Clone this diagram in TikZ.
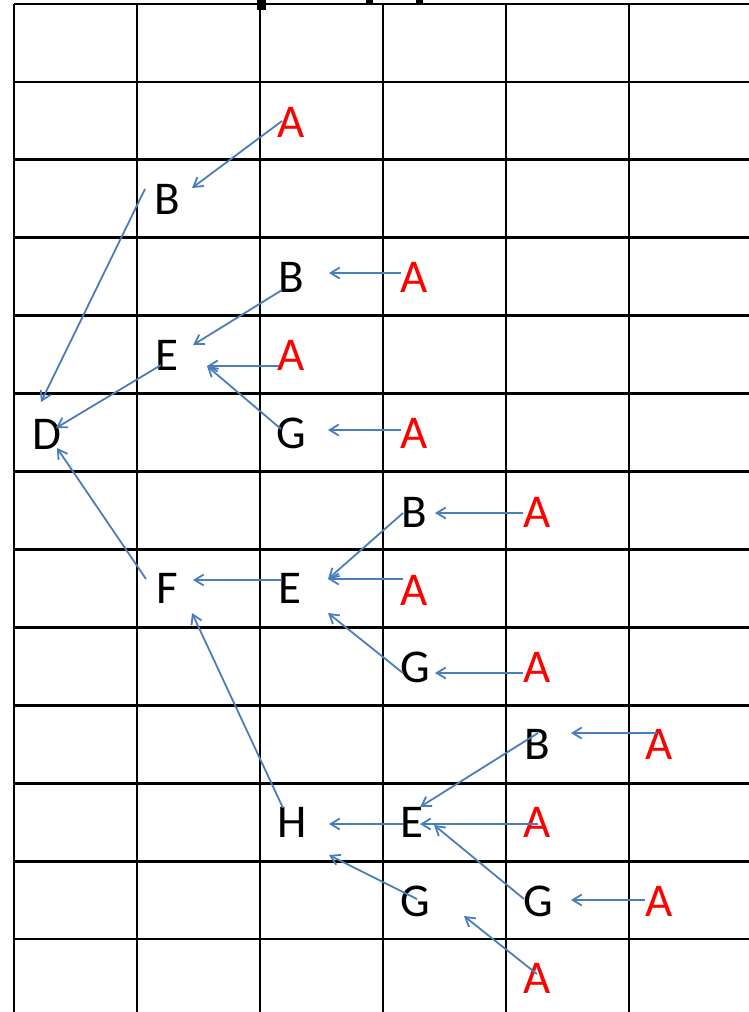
\documentclass[tikz,border=0pt]{standalone}
\usepackage{fontspec}
\setmainfont{Carlito}
\usetikzlibrary{arrows.meta}
\definecolor{linkblue}{HTML}{4A7EBB}
\definecolor{leafred}{HTML}{FF0000}

\begin{document}
\begin{tikzpicture}[x=1pt, y=-1pt,
        gridline/.style={line width=2.8pt, black},
        letter/.style={inner sep=0pt, font=\fontsize{47}{50}\selectfont, text=black},
        leaf/.style={letter, text=leafred},
        link/.style={-{Straight Barb[length=9pt, width=11pt]}, line width=1.8pt, linkblue},
    ]
    \useasboundingbox (0,0) rectangle (749,1012);
    % Column positions
    \def\colA{47}
    \def\colB{167}
    \def\colC{291}
    \def\colD{414}
    \def\colE{537}
    \def\colF{659}

    % === Grid ===
    \foreach \gx in {14,137,260,383,506,629}
        \draw[gridline] (\gx,4) -- (\gx,1012);
    \foreach \k in {0,...,12}
        \draw[gridline] (14,4+77.92*\k) -- (749,4+77.92*\k);
    % cut-off marks on top edge
    \fill (257,0) rectangle (266,10);
    \fill (366,0) rectangle (373,5);
    \fill (416,0) rectangle (423,5);

    % === Upper branch ===
    \node[leaf] (a2c) at (\colC, 122) {A};
    \node[letter] (b3b) at (\colB, 199) {B};
    \node[letter] (b4c) at (\colC, 277) {B};
    \node[leaf] (a4d) at (\colD, 277) {A};
    \node[letter] (e5b) at (\colB, 355) {E};
    \node[leaf] (a5c) at (\colC, 355) {A};
    \node[letter] (d6a) at (\colA, 434) {D};
    \node[letter] (g6c) at (\colC, 433) {G};
    \node[leaf] (a6d) at (\colD, 433) {A};
    \draw[link] ([shift={(-9,-1)}]a2c.center) -- ([shift={(25,-11)}]b3b.center);
    \draw[link] ([shift={(-22,-10)}]b3b.center) -- ([shift={(-6,-32)}]d6a.center);
    \draw[link] ([shift={(-13,-4)}]a4d.center) -- ([shift={(38,-4)}]b4c.center);
    \draw[link] ([shift={(-9,13)}]b4c.center) -- ([shift={(26,-10)}]e5b.center);
    \draw[link] ([shift={(-12,11)}]a5c.center) -- ([shift={(40,11)}]e5b.center);
    \draw[link] ([shift={(-10,-4)}]g6c.center) -- ([shift={(40,11)}]e5b.center);
    \draw[link] ([shift={(-6,10)}]e5b.center) -- ([shift={(9,-6)}]d6a.center);
    \draw[link] ([shift={(-13,-3)}]a6d.center) -- ([shift={(37,-3)}]g6c.center);

    % === Middle branch ===
    \node[letter] (b7d) at (\colD, 512) {B};
    \node[leaf] (a7e) at (\colE, 512) {A};
    \node[letter] (f8b) at (\colB, 588) {F};
    \node[letter] (e8c) at (290, 588) {E};
    \node[leaf] (a8d) at (\colD, 590) {A};
    \node[letter] (g9d) at (415, 667) {G};
    \node[leaf] (a9e) at (\colE, 667) {A};
    \draw[link] ([shift={(-21,-9)}]f8b.center) -- ([shift={(10,14)}]d6a.center);
    \draw[link] ([shift={(-14,1)}]a7e.center) -- ([shift={(21,1)}]b7d.center);
    \draw[link] ([shift={(-11,1)}]b7d.center) -- ([shift={(38,-9)}]e8c.center);
    \draw[link] ([shift={(-11,-11)}]a8d.center) -- ([shift={(38,-9)}]e8c.center);
    \draw[link] ([shift={(-12,6)}]g9d.center) -- ([shift={(38,25)}]e8c.center);
    \draw[link] ([shift={(-14,6)}]a9e.center) -- ([shift={(20,6)}]g9d.center);
    \draw[link] ([shift={(-8,-8)}]e8c.center) -- ([shift={(26,-8)}]f8b.center);

    % === Lower branch ===
    \node[letter] (b10e) at (\colE, 744) {B};
    \node[leaf] (a10f) at (\colF, 744) {A};
    \node[letter] (h11c) at (292, 822) {H};
    \node[letter] (e11d) at (412, 822) {E};
    \node[leaf] (a11e) at (\colE, 822) {A};
    \node[letter] (g12d) at (415, 901) {G};
    \node[letter] (g12e) at (538, 901) {G};
    \node[leaf] (a12f) at (\colF, 901) {A};
    \node[leaf] (a13e) at (\colE, 978) {A};
    \draw[link] ([shift={(-9,-14)}]h11c.center) -- ([shift={(25,25)}]f8b.center);
    \draw[link] ([shift={(-2,-11)}]a10f.center) -- ([shift={(34,-11)}]b10e.center);
    \draw[link] ([shift={(1,-11)}]b10e.center) -- ([shift={(8,-15)}]e11d.center);
    \draw[link] ([shift={(1,2)}]a11e.center) -- ([shift={(8,2)}]e11d.center);
    \draw[link] ([shift={(-14,-2)}]g12e.center) -- ([shift={(22,3)}]e11d.center);
    \draw[link] ([shift={(-9,2)}]e11d.center) -- ([shift={(37,2)}]h11c.center);
    \draw[link] ([shift={(2,-2)}]g12d.center) -- ([shift={(37,33)}]h11c.center);
    \draw[link] ([shift={(0,-4)}]a13e.center) -- ([shift={(49,15)}]g12d.center);
    \draw[link] ([shift={(-14,-1)}]a12f.center) -- ([shift={(33,-1)}]g12e.center);

\end{tikzpicture}
\end{document}
